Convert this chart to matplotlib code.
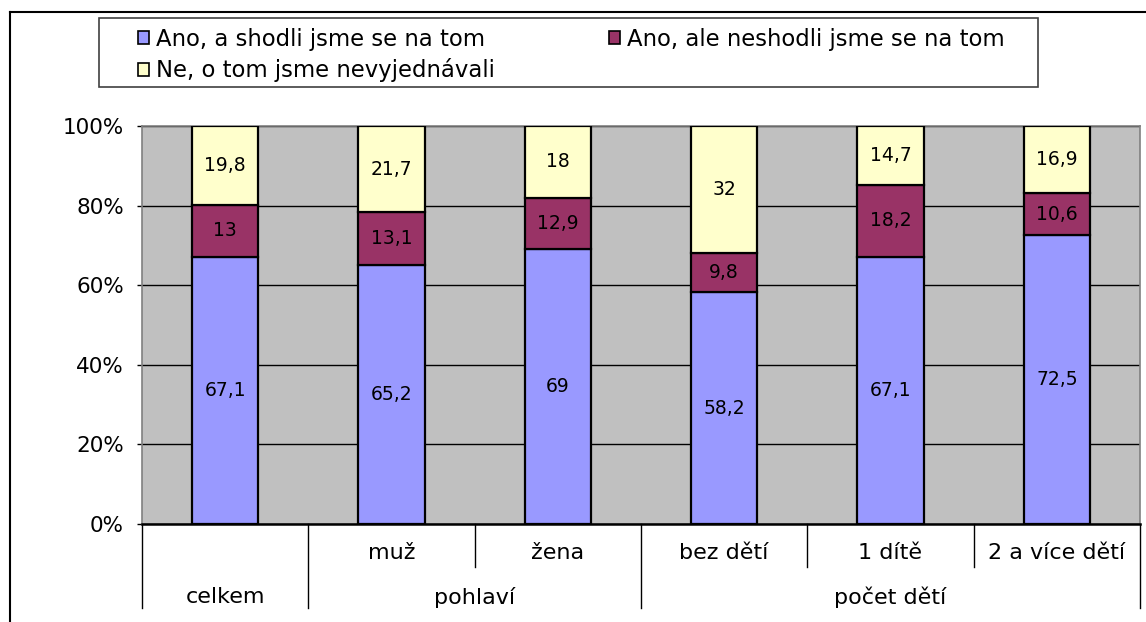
import matplotlib
matplotlib.use("Agg")
import matplotlib.pyplot as plt
from matplotlib.patches import Rectangle, Patch
from matplotlib.lines import Line2D
import numpy as np

categories = ["", "muž", "žena", "bez dětí", "1 dítě", "2 a více dětí"]
groups = ["celkem", "pohlaví", "počet dětí"]
group_spans = [(0, 0), (1, 2), (3, 5)]
series_names = ["Ano, a shodli jsme se na tom", "Ano, ale neshodli jsme se na tom",
                "Ne, o tom jsme nevyjednávali"]
shodli = [67.1, 65.2, 69, 58.2, 67.1, 72.5]
neshodli = [13, 13.1, 12.9, 9.8, 18.2, 10.6]
nevyjednavali = [19.8, 21.7, 18, 32, 14.7, 16.9]
yticks = [0, 20, 40, 60, 80, 100]
ytick_labels = ["0%", "20%", "40%", "60%", "80%", "100%"]

colors = ["#9999FF", "#993366", "#FFFFCC"]

W, H = 1146, 622
fig = plt.figure(figsize=(W / 100, H / 100), dpi=100)
fig.patch.set_facecolor("white")

ax = fig.add_axes([142 / W, 1 - 524 / H, (1140 - 142) / W, (524 - 126) / H])
ax.set_facecolor("#C0C0C0")

x = np.arange(len(categories))
series = [shodli, neshodli, nevyjednavali]
total = np.array(shodli) + np.array(neshodli) + np.array(nevyjednavali)
bottom = np.zeros(len(categories))
for vals, col in zip(series, colors):
    vals = np.array(vals, dtype=float)
    pct = vals / total * 100
    ax.bar(x, pct, 0.4, bottom=bottom, color=col, edgecolor="black", linewidth=1.6, zorder=3)
    for xi, b, p, v in zip(x, bottom, pct, vals):
        lab = ("%g" % v).replace(".", ",")
        ax.text(xi, b + p / 2, lab, ha="center", va="center", fontsize=13.5,
                color="black", zorder=4)
    bottom += pct

ax.set_xlim(-0.5, len(categories) - 0.5)
ax.set_ylim(0, 100)
ax.set_yticks(yticks)
ax.set_yticklabels(ytick_labels, fontsize=15.5)
ax.tick_params(axis="y", length=3.6, width=1, color="black", pad=9.4, direction="out")
ax.set_xticks([])
ax.yaxis.grid(True, color="black", linewidth=1, zorder=1)
ax.set_axisbelow(True)
for s in ["top", "right", "left"]:
    ax.spines[s].set_color("#808080")
    ax.spines[s].set_linewidth(1.2)
ax.spines["bottom"].set_color("black")
ax.spines["bottom"].set_linewidth(1.8)

# category axis (two levels)
trans = ax.get_xaxis_transform()
ph = 524 - 126
y_short = -(567 - 524) / ph
y_full = -(608 - 524) / ph
full_bounds = [-0.5, 0.5, 2.5, 5.5]
short_bounds = [1.5, 3.5, 4.5]
for b in full_bounds:
    ax.add_line(Line2D([b, b], [0, y_full], transform=trans, color="black",
                       linewidth=1, clip_on=False))
for b in short_bounds:
    ax.add_line(Line2D([b, b], [0, y_short], transform=trans, color="black",
                       linewidth=1, clip_on=False))
y_row1 = -(553 - 524) / ph
y_row2 = -(597 - 524) / ph
for xi, c in zip(x, categories):
    ax.text(xi, y_row1, c, transform=trans, ha="center", va="center", fontsize=16)
for g, (a, b) in zip(groups, group_spans):
    ax.text((a + b) / 2, y_row2, g, transform=trans, ha="center", va="center", fontsize=16)

# outer chart border
fig.add_artist(Line2D([10 / W, 10 / W], [1 - 12 / H, 0], transform=fig.transFigure,
                      color="black", linewidth=1.5))
fig.add_artist(Line2D([10 / W, 1], [1 - 12 / H, 1 - 12 / H], transform=fig.transFigure,
                      color="black", linewidth=1.5))

# legend frame
fig.add_artist(Rectangle((99 / W, 1 - 87 / H), (1038 - 99) / W, (87 - 18) / H,
                         transform=fig.transFigure, facecolor="white",
                         edgecolor="#404040", linewidth=1.2, zorder=0))
handles = [Patch(facecolor=c, edgecolor="black", linewidth=1.2) for c in colors]
order = [0, 2, 1]
leg = fig.legend([handles[i] for i in order], [series_names[i] for i in order],
                 loc="upper left",
                 bbox_to_anchor=(138 / W, 1 - 28 / H), ncol=2, frameon=False,
                 fontsize=16.4, handlelength=0.5, handleheight=0.5,
                 handletextpad=0.3, columnspacing=5.0, labelspacing=0.32,
                 borderpad=0, borderaxespad=0)

fig.savefig("out.png", dpi=100)
